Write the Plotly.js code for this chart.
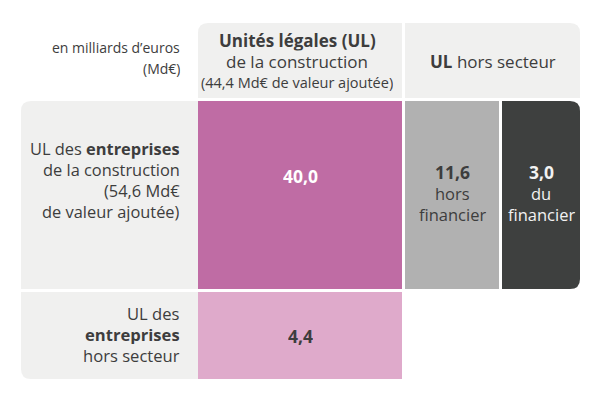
<!DOCTYPE html>
<html>
<head>
<meta charset="utf-8">
<script src="https://cdn.plot.ly/plotly-3.0.1.min.js"></script>
<style>html,body{margin:0;padding:0;background:#fff;}#chart{width:601px;height:399px;}</style>
</head>
<body>
<div id="chart"></div>
<script>
// ---- Data ----
const unitNote = ["en milliards d’euros", "(Md€)"];
const colHeaders = [
  ["<b>Unités légales (UL)</b>", "de la construction", "(44,4 Md€ de valeur ajoutée)"],
  ["<b>UL</b> hors secteur"]
];
const rowHeaders = [
  ["UL des <b>entreprises</b>", "de la construction", "(54,6 Md€", "de valeur ajoutée)"],
  ["UL des", "<b>entreprises</b>", "hors secteur"]
];
const cellValues = [40.0, 11.6, 3.0, 4.4];
const cellSublabels = [[], ["hors", "financier"], ["du", "financier"], []];

// ---- Layout (pixel grid) ----
const FONT = "Open Sans, sans-serif";
const TXT = "#3d3d3d";
const BG = "#f0f0ef";
const R = 10;

// cell geometry: [x0, y0, x1, y1, corners(tl,tr,br,bl), fill, textColor]
const headerBoxes = [
  [198, 23, 402, 98, [1,0,0,0], BG],
  [405, 23, 580, 98, [0,1,0,0], BG]
];
const rowBoxes = [
  [21, 101, 198, 289, [1,0,0,0], BG],
  [21, 292, 198, 379, [0,0,0,1], BG]
];
const valueBoxes = [
  [198, 101, 402, 289, [0,0,0,0], "#bf6ca4", "#ffffff"],
  [405, 101, 499, 289, [0,0,0,0], "#b1b1b1", TXT],
  [502, 101, 580, 289, [0,1,1,0], "#3e403f", "#f2f2f2"],
  [198, 292, 402, 379, [0,0,0,0], "#dfaacb", TXT]
];

function roundedPath(x0, y0, x1, y1, c) {
  const [tl, tr, br, bl] = c.map(v => v ? R : 0);
  let p = `M ${x0 + tl} ${y0} L ${x1 - tr} ${y0}`;
  if (tr) p += ` Q ${x1} ${y0} ${x1} ${y0 + tr}`;
  p += ` L ${x1} ${y1 - br}`;
  if (br) p += ` Q ${x1} ${y1} ${x1 - br} ${y1}`;
  p += ` L ${x0 + bl} ${y1}`;
  if (bl) p += ` Q ${x0} ${y1} ${x0} ${y1 - bl}`;
  p += ` L ${x0} ${y0 + tl}`;
  if (tl) p += ` Q ${x0} ${y0} ${x0 + tl} ${y0}`;
  return p + " Z";
}

const shapes = [];
const annotations = [];
function box(b) {
  shapes.push({type: "path", xref: "x", yref: "y", path: roundedPath(b[0], b[1], b[2], b[3], b[4]),
    fillcolor: b[5], line: {width: 0}, layer: "below"});
}
headerBoxes.forEach(box);
rowBoxes.forEach(box);
valueBoxes.forEach(box);

function addText(text, x, y, size, xanchor, color, h) {
  annotations.push({x: x, y: y, xref: "x", yref: "y",
    xanchor: xanchor, yanchor: "middle", align: xanchor === "right" ? "right" : "center",
    height: h, valign: "middle", borderpad: 0,
    text: text, showarrow: false, font: {family: FONT, size: size, color: color}});
}
// lines: array of [text, size]
function addLines(lines, x, yCenter, spacing, xanchor, color) {
  const n = lines.length;
  lines.forEach((ln, i) => {
    addText(ln[0], x, yCenter + (i - (n - 1) / 2) * spacing, ln[1], xanchor, color,
      Math.min(spacing - 1, ln[1] * 1.3));
  });
}

addLines(unitNote.map(t => [t, 14]), 181, 57, 21, "right", TXT);

addLines([[colHeaders[0][0], 17], [colHeaders[0][1], 17], [colHeaders[0][2], 14.5]], 297, 61.5, 20.5, "center", TXT);
addLines([[colHeaders[1][0], 17]], (headerBoxes[1][0] + headerBoxes[1][2]) / 2, 61, 21, "center", TXT);

addLines(rowHeaders[0].map(t => [t, 16.4]), 181, 180.3, 20.8, "right", TXT);
addLines(rowHeaders[1].map(t => [t, 16.6]), 181, 334, 21, "right", TXT);

const fmt = v => v.toFixed(1).replace(".", ",");
const valueTextY = [175, 171.5, 171.5, 335];
cellValues.forEach((v, i) => {
  const b = valueBoxes[i];
  const cx = (b[0] + b[2]) / 2;
  addText("<b>" + fmt(v) + "</b>", cx, valueTextY[i], 17.5, "center", b[6], 19);
  cellSublabels[i].forEach((t, j) => {
    addText(t, cx, valueTextY[i] + 22 + j * 21, 16.5, "center", b[6], 19);
  });
});

const layout = {
  width: 601, height: 399,
  margin: {l: 0, r: 0, t: 0, b: 0},
  paper_bgcolor: "#ffffff", plot_bgcolor: "#ffffff",
  xaxis: {range: [0, 601], visible: false, fixedrange: true},
  yaxis: {range: [399, 0], visible: false, fixedrange: true},
  showlegend: false,
  shapes: shapes,
  annotations: annotations
};
Plotly.newPlot("chart", [{x: [], y: [], type: "scatter", hoverinfo: "skip"}], layout, {staticPlot: true, displayModeBar: false});
</script>
</body>
</html>
